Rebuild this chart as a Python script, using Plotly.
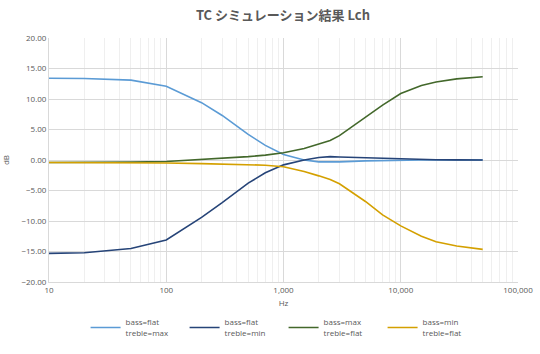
import plotly.graph_objects as go

freq = [10, 20, 50, 100, 200, 300, 500, 700, 1000, 1500, 2000, 2500, 3000, 5000, 7000, 10000, 15000, 20000, 30000, 50000]

s_flat_tmax = [13.4, 13.35, 13.1, 12.1, 9.4, 7.3, 4.2, 2.4, 0.9, 0.0, -0.3, -0.35, -0.3, -0.15, -0.08, -0.04, 0.0, 0.0, 0.0, 0.0]
s_flat_tmin = [-15.3, -15.2, -14.5, -13.1, -9.4, -7.0, -3.8, -2.1, -0.8, 0.0, 0.4, 0.55, 0.5, 0.35, 0.25, 0.15, 0.08, 0.05, 0.02, 0.0]
s_max_tflat = [-0.4, -0.4, -0.35, -0.25, 0.05, 0.25, 0.55, 0.8, 1.2, 1.9, 2.6, 3.2, 4.0, 7.0, 9.0, 10.9, 12.2, 12.8, 13.3, 13.65]
s_min_tflat = [-0.4, -0.4, -0.45, -0.5, -0.6, -0.65, -0.7, -0.85, -1.1, -1.9, -2.6, -3.2, -3.9, -6.8, -9.0, -10.8, -12.5, -13.4, -14.1, -14.65]

names = ["bass=flat<br>treble=max", "bass=flat<br>treble=min", "bass=max<br>treble=flat", "bass=min<br>treble=flat"]
colors = ["#5B9BD5", "#264478", "#43682B", "#D4A000"]
series = [s_flat_tmax, s_flat_tmin, s_max_tflat, s_min_tflat]

y_ticks = [20, 15, 10, 5, 0, -5, -10, -15, -20]
x_ticks = [10, 100, 1000, 10000, 100000]
x_ticklabels = ["10", "100", "1,000", "10,000", "100,000"]

fig = go.Figure()
for n, c, s in zip(names, colors, series):
    fig.add_trace(go.Scatter(x=freq, y=s, mode="lines", name=n,
                             line=dict(color=c, width=1.6)))

txt = "#595959"
fig.update_layout(
    width=540, height=354,
    margin=dict(l=49, r=22, t=38, b=72, autoexpand=False),
    paper_bgcolor="white", plot_bgcolor="white",
    font=dict(family="Open Sans, Noto Sans CJK JP", size=8, color=txt),
    title=dict(text="<b>TC シミュレーション結果 Lch</b>", x=0.524, xanchor="center",
               y=0.955, yanchor="middle",
               font=dict(family="Noto Sans CJK JP", size=13, color=txt)),
    showlegend=True,
    legend=dict(orientation="h", x=0.078, xanchor="left", y=-0.117, yanchor="top",
                entrywidth=54, entrywidthmode="pixels", itemwidth=30,
                font=dict(size=8, color=txt), tracegroupgap=0),
)
fig.update_xaxes(type="log", range=[1, 5], tickvals=x_ticks, ticktext=x_ticklabels,
                 showgrid=True, gridcolor="#D9D9D9", gridwidth=1,
                 minor=dict(showgrid=True, gridcolor="#EFEFEF", gridwidth=1,
                            tickvals=[m * 10 ** d for d in range(1, 5) for m in range(2, 10)]),
                 showline=True, linecolor="#D9D9D9", zeroline=False,
                 title=dict(text="Hz", font=dict(size=8, color=txt), standoff=6),
                 tickfont=dict(size=8, color=txt), ticks="")
fig.update_yaxes(range=[-20, 20], tickvals=y_ticks, tickformat=".2f",
                 showgrid=True, gridcolor="#D9D9D9", gridwidth=1,
                 showline=True, linecolor="#D9D9D9", zeroline=False,
                 title=dict(text="dB", font=dict(size=8, color=txt), standoff=10),
                 tickfont=dict(size=8, color=txt), ticks="")

fig.write_html("out.html")
